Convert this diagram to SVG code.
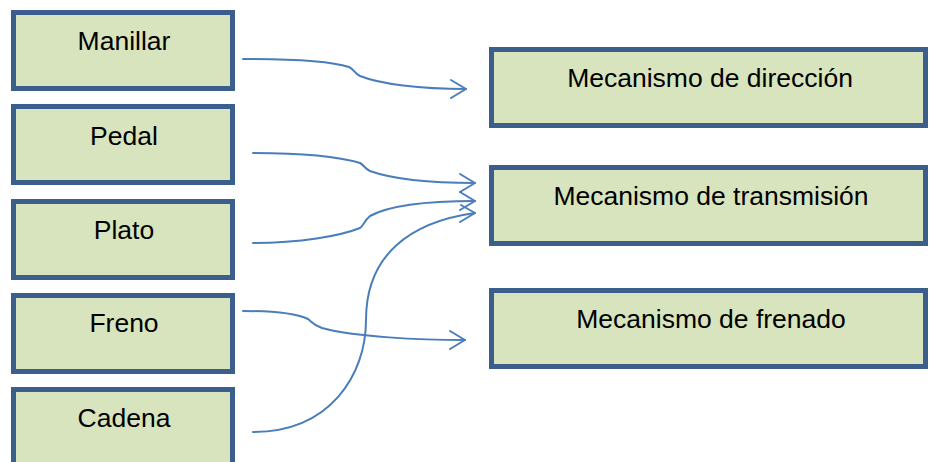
<svg xmlns="http://www.w3.org/2000/svg" width="933" height="462" viewBox="0 0 933 462">
<style>
.box{fill:#D7E4BD;stroke:#3B5F8C;stroke-width:5}
.lbl{font-family:"Liberation Sans",Arial,sans-serif;font-size:26.5px;fill:#000;text-anchor:middle}
.c{fill:none;stroke:#4A7EBB;stroke-width:2;stroke-linecap:round;stroke-linejoin:round}
</style>
<rect width="933" height="462" fill="#fff"/>
<g id="manillar"><rect class="box" x="13.5" y="12.5" width="219" height="76"/><text class="lbl" x="124" y="50">Manillar</text></g>
<g id="pedal"><rect class="box" x="13.5" y="106.5" width="219" height="76"/><text class="lbl" x="124" y="145">Pedal</text></g>
<g id="plato"><rect class="box" x="13.5" y="201.5" width="219" height="76"/><text class="lbl" x="124" y="239">Plato</text></g>
<g id="freno"><rect class="box" x="13.5" y="295.5" width="219" height="76"/><text class="lbl" x="124" y="332">Freno</text></g>
<g id="cadena"><rect class="box" x="13.5" y="389.5" width="219" height="80"/><text class="lbl" x="124" y="427">Cadena</text></g>
<g id="direccion"><rect class="box" x="491.5" y="49.5" width="434" height="76"/><text class="lbl" x="710" y="87">Mecanismo de dirección</text></g>
<g id="transmision"><rect class="box" x="491.5" y="167.5" width="434" height="76"/><text class="lbl" x="711" y="205">Mecanismo de transmisión</text></g>
<g id="frenado"><rect class="box" x="491.5" y="290.5" width="434" height="76"/><text class="lbl" x="711" y="328">Mecanismo de frenado</text></g>
<g id="connectors">
<path class="c" d="M243,59 C290,59 330,61 349,67 C354,69 354,73 360,76 C380,84 420,89 466,89"/>
<path class="c" d="M451,80 L466,89 L451,98"/>
<path class="c" d="M253,153 C300,153 340,157 360,163 C364,165 364,168 370,171 C395,180 430,183 475,183"/>
<path class="c" d="M460,174 L475,183 L460,192"/>
<path class="c" d="M253,243 C300,243 340,236 360,228 C364,225 364,221 370,216 C390,205 430,201 475,201"/>
<path class="c" d="M460,192 L475,201 L460,210"/>
<path class="c" d="M253,432 C330,432 366,375 366,320 C366,255 410,222 475,213"/>
<path class="c" d="M461,205 L475,213 L460,222"/>
<path class="c" d="M243,311 C275,311 297,314 308,319 C312,322 313,325 322,328 C355,337 420,340 465,340"/>
<path class="c" d="M450,331 L465,340 L450,349"/>
</g>
</svg>
